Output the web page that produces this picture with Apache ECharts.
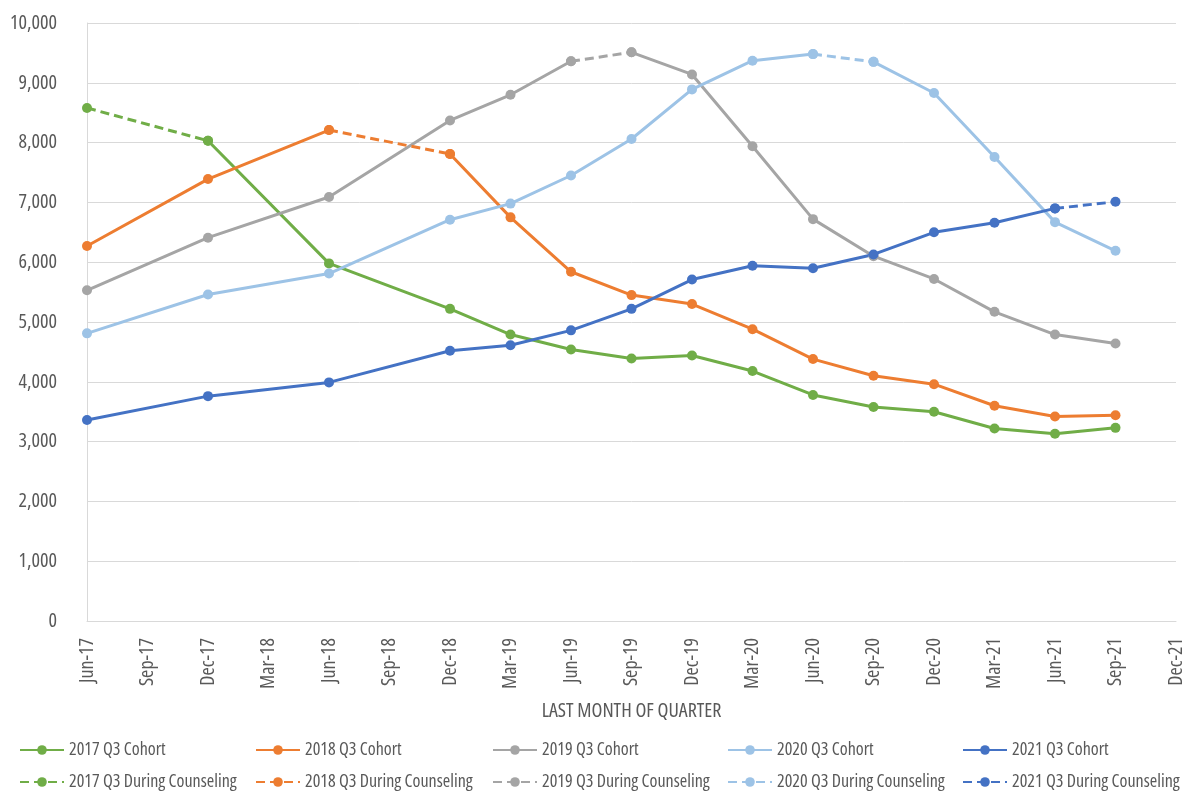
<!DOCTYPE html>
<html>
<head>
<meta charset="utf-8">
<title>Cohorts by last month of quarter</title>
<script src="https://cdn.jsdelivr.net/npm/echarts@6/dist/echarts.min.js"></script>
<style>
  html, body { margin: 0; padding: 0; background: #ffffff; }
  #chart { width: 1182px; height: 794px; }
</style>
</head>
<body>
<div id="chart"></div>
<script>
// Quarter-end months that carry a value
const periods = ['Jun-17', 'Dec-17', 'Jun-18', 'Dec-18', 'Mar-19', 'Jun-19', 'Sep-19', 'Dec-19',
                 'Mar-20', 'Jun-20', 'Sep-20', 'Dec-20', 'Mar-21', 'Jun-21', 'Sep-21'];

// Axis tick labels, one every three months
const tickLabels = ['Jun-17', 'Sep-17', 'Dec-17', 'Mar-18', 'Jun-18', 'Sep-18', 'Dec-18', 'Mar-19',
                    'Jun-19', 'Sep-19', 'Dec-19', 'Mar-20', 'Jun-20', 'Sep-20', 'Dec-20', 'Mar-21',
                    'Jun-21', 'Sep-21', 'Dec-21'];

const yTicks = [0, 1000, 2000, 3000, 4000, 5000, 6000, 7000, 8000, 9000, 10000];

// Cohort values (aligned with periods; null = no value)
const cohort2017 = [null, 8030, 5980, 5220, 4790, 4540, 4390, 4440, 4180, 3780, 3580, 3500, 3220, 3130, 3230];
const cohort2018 = [6270, 7390, 8210, 7810, 6750, 5840, 5450, 5300, 4880, 4380, 4100, 3960, 3600, 3420, 3440];
const cohort2019 = [5530, 6410, 7090, 8370, 8800, 9360, 9510, 9140, 7940, 6720, 6100, 5720, 5170, 4790, 4640];
const cohort2020 = [4810, 5460, 5810, 6710, 6980, 7450, 8060, 8890, 9370, 9480, 9350, 8830, 7760, 6670, 6190];
const cohort2021 = [3360, 3760, 3990, 4520, 4610, 4860, 5220, 5710, 5940, 5900, 6130, 6500, 6660, 6900, null];

// During-counseling values (aligned with periods)
const counsel2017 = [8580, 8030, null, null, null, null, null, null, null, null, null, null, null, null, null];
const counsel2018 = [null, null, 8210, 7810, null, null, null, null, null, null, null, null, null, null, null];
const counsel2019 = [null, null, null, null, null, 9360, 9510, null, null, null, null, null, null, null, null];
const counsel2020 = [null, null, null, null, null, null, null, null, null, 9480, 9350, null, null, null, null];
const counsel2021 = [null, null, null, null, null, null, null, null, null, null, null, null, null, 6900, 7010];

const years = ['2017', '2018', '2019', '2020', '2021'];
const cohorts = [cohort2017, cohort2018, cohort2019, cohort2020, cohort2021];
const counsels = [counsel2017, counsel2018, counsel2019, counsel2020, counsel2021];
const colors = ['#70AD47', '#ED7D31', '#A5A5A5', '#9DC3E6', '#4472C4'];

// Condensed face of Open Sans (the stretch keyword rides in the font shorthand)
const FONT = "'Open Sans', sans-serif";
const STRETCH = 'condensed';
const TEXT = '#595959';
const GRIDLINE = '#D9D9D9';

const MONTHS = ['Jan', 'Feb', 'Mar', 'Apr', 'May', 'Jun', 'Jul', 'Aug', 'Sep', 'Oct', 'Nov', 'Dec'];
// Months elapsed since Jun-17
function monthIndex(label) {
  const [mon, yy] = label.split('-');
  return (Number(yy) - 17) * 12 + MONTHS.indexOf(mon) - 5;
}

// Solid cohort line; it is broken wherever the dashed counseling segment takes over
function cohortData(values, counsel) {
  const out = [];
  for (let i = 0; i < values.length; i++) {
    if (values[i] == null) continue;
    const x = monthIndex(periods[i]);
    out.push([x, values[i]]);
    if (i + 1 < values.length && values[i + 1] != null &&
        counsel[i] != null && counsel[i + 1] != null) {
      out.push([x, '-']);
    }
  }
  return out;
}

function counselData(values) {
  const out = [];
  values.forEach((v, i) => {
    if (v != null) out.push([monthIndex(periods[i]), v]);
  });
  return out;
}

const LINE_W = 3;
const DOT = 10;

const series = [];
years.forEach((y, k) => {
  series.push({
    name: y + ' Q3 Cohort',
    type: 'line',
    data: cohortData(cohorts[k], counsels[k]),
    connectNulls: false,
    symbol: 'circle',
    symbolSize: DOT,
    color: colors[k],
    lineStyle: { width: LINE_W, color: colors[k] },
    itemStyle: { color: colors[k] },
    z: 3,
    animation: false
  });
});
years.forEach((y, k) => {
  series.push({
    name: y + ' Q3 During Counseling',
    type: 'line',
    data: counselData(counsels[k]),
    symbol: 'circle',
    symbolSize: DOT,
    color: colors[k],
    lineStyle: { width: LINE_W, color: colors[k], type: [9, 5] },
    itemStyle: { color: colors[k] },
    z: 3,
    animation: false
  });
});

// Legend: five columns, solid entries on the first row, dashed entries on the second
const legendCols = [19, 255, 492, 727, 962];
const legendRows = [750, 782];
const legendText = { color: TEXT, fontFamily: FONT, fontWeight: STRETCH, fontSize: 18 };
const legends = [];
years.forEach((y, k) => {
  [y + ' Q3 Cohort', y + ' Q3 During Counseling'].forEach((name, r) => {
    legends.push({
      orient: 'horizontal',
      left: legendCols[k],
      top: legendRows[r] - 9,
      padding: 0,
      itemWidth: 44,
      itemHeight: 12,
      itemGap: 0,
      data: [name],
      textStyle: legendText,
      selectedMode: false
    });
  });
});

const chart = echarts.init(document.getElementById('chart'), null, { renderer: 'canvas' });
chart.setOption({
  backgroundColor: '#ffffff',
  animation: false,
  textStyle: { fontFamily: FONT, fontWeight: STRETCH },
  grid: { left: 87, right: 6, top: 23, bottom: 173, containLabel: false, outerBoundsMode: 'none' },
  xAxis: {
    type: 'value',
    min: 0,
    max: (tickLabels.length - 1) * 3,
    interval: 3,
    name: 'LAST MONTH OF QUARTER',
    nameLocation: 'middle',
    nameGap: 80,
    nameTextStyle: { color: TEXT, fontFamily: FONT, fontWeight: STRETCH, fontSize: 20 },
    axisLine: { show: true, lineStyle: { color: GRIDLINE, width: 1 } },
    axisTick: { show: false },
    splitLine: { show: false },
    axisLabel: {
      rotate: 90,
      margin: 17,
      color: TEXT,
      fontFamily: FONT,
      fontWeight: STRETCH,
      fontSize: 20,
      formatter: v => tickLabels[Math.round(v / 3)] || ''
    }
  },
  yAxis: {
    type: 'value',
    min: yTicks[0],
    max: yTicks[yTicks.length - 1],
    interval: yTicks[1] - yTicks[0],
    axisLine: { show: true, lineStyle: { color: GRIDLINE, width: 1 } },
    axisTick: { show: false },
    splitLine: { show: true, lineStyle: { color: GRIDLINE, width: 1 } },
    axisLabel: {
      margin: 30,
      color: TEXT,
      fontFamily: FONT,
      fontWeight: STRETCH,
      fontSize: 20,
      formatter: v => v.toLocaleString('en-US')
    }
  },
  legend: legends,
  series: series
});
</script>
</body>
</html>
